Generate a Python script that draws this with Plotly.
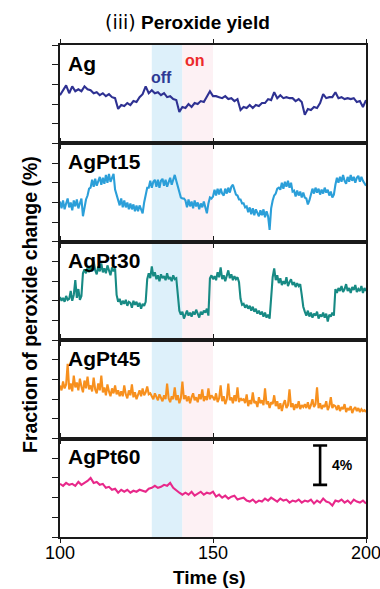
import numpy as np
import plotly.graph_objects as go
from plotly.subplots import make_subplots

# ---- data: fraction of peroxide change (%), each panel offset on its own 0-10 scale ----
panel_names = ["Ag", "AgPt15", "AgPt30", "AgPt45", "AgPt60"]
panel_colors = ["#2e3192", "#2b9fd9", "#178a84", "#f7901e", "#e8288a"]

# Ag, sampled every 1 s from 100 to 200 s
ag = [4.9, 5.4, 5.9, 5.1, 5.8, 5.3, 5.5, 5.3, 5.8, 5.5,
      5.4, 5.1, 5.2, 4.9, 5.1, 4.8, 5.0, 4.7, 4.6, 3.5,
      3.9, 3.8, 4.1, 3.9, 4.3, 4.2, 4.7, 5.0, 5.8, 5.1,
      5.4, 5.1, 5.2, 4.9, 5.1, 4.7, 4.8, 4.5, 4.4, 3.2,
      3.7, 3.6, 4.0, 3.7, 4.1, 4.0, 4.3, 4.2, 4.8, 5.3,
      4.8, 4.8, 4.7, 4.6, 4.8, 4.5, 4.6, 4.3, 4.5, 3.4,
      3.7, 3.6, 3.9, 3.6, 3.9, 3.8, 4.1, 4.1, 4.5, 4.4,
      5.2, 4.6, 4.9, 4.6, 4.7, 4.6, 4.6, 4.3, 4.5, 4.2,
      2.9, 3.5, 3.4, 3.7, 3.6, 4.1, 5.0, 4.6, 4.7, 4.7,
      5.2, 4.6, 4.7, 4.5, 4.6, 4.5, 4.6, 4.2, 4.3, 3.7,
      4.4]

# AgPt15, sampled every 0.5 s
agpt15 = [4.1, 3.4, 4.2, 3.3, 3.9, 4.4, 3.5, 4.0, 3.2, 4.2, 3.6, 4.3, 3.4, 3.9, 4.4, 2.6,
          3.6, 4.3, 4.7, 5.4,
          5.5, 6.3, 5.6, 6.4, 5.7, 6.2, 6.6, 5.8, 6.5, 5.9, 6.8, 6.0, 6.9, 6.1, 6.6, 6.9,
          5.3, 4.8,
          4.3, 3.7, 4.4, 3.5, 4.2, 3.5, 4.0, 3.3, 3.9, 3.3, 3.8, 3.1, 3.7, 3.1, 3.7, 3.3, 2.9, 4.0,
          4.8, 5.5,
          5.5, 6.2, 5.5, 6.1, 6.3, 5.6, 6.3, 5.5, 6.2, 6.4, 5.7, 6.3, 5.6, 6.2, 6.5, 5.8, 6.4, 6.8,
          6.2, 5.6, 5.0, 4.5, 4.4, 4.4,
          4.2, 3.5, 4.3, 3.6, 4.1, 3.4, 4.2, 3.6, 4.0, 3.3, 3.9, 3.5, 4.1, 3.4, 2.9, 3.9,
          4.5, 4.4,
          4.6, 5.3, 4.7, 5.4, 4.8, 5.4, 4.9, 4.7, 5.4, 4.9, 5.5, 5.0, 5.6, 5.8,
          5.2, 4.8, 4.7, 4.3, 4.3, 3.9, 3.9, 3.5,
          3.6, 3.0, 3.5, 2.8, 3.4, 2.7, 3.3, 2.9, 2.6, 3.2, 2.7, 3.3, 2.5, 3.1, 2.6,
          1.2,
          3.4, 4.2, 4.7, 4.9, 5.4, 5.5,
          5.3, 6.0, 5.4, 6.1, 5.6, 6.2, 5.5, 6.0,
          5.1, 5.2, 4.6, 5.2, 4.7, 5.1, 4.5, 5.0, 4.5, 4.4,
          3.8, 4.2,
          4.8, 5.4, 4.9, 5.5, 5.0, 5.4, 4.8, 5.3, 4.9, 5.5, 5.0, 5.3, 4.7, 5.1,
          4.5, 4.8,
          5.8, 6.5, 6.0, 6.6, 6.1, 6.8, 6.2, 5.9, 6.6, 6.1, 6.8, 6.2, 6.6, 6.0, 6.5, 6.7,
          6.1, 6.6, 6.2, 6.0, 5.7]

# AgPt30, sampled every 0.5 s
agpt30 = [4.4, 4.0, 4.3, 3.9, 4.5, 4.1, 4.2, 5.0, 4.0, 4.6, 6.1, 4.3, 5.2, 4.1, 4.5,
          6.8,
          7.2, 6.8, 7.4, 6.9, 7.6, 7.0, 8.0, 7.1, 6.7, 7.5, 7.0, 7.8, 6.9, 7.3, 6.8, 7.6,
          7.1, 6.6, 7.4, 7.0, 7.3,
          4.6,
          3.9, 4.2, 3.6, 4.0, 3.7, 4.1, 3.5, 3.9, 3.8, 3.3, 4.0, 3.6, 3.9, 3.4, 3.8, 3.2,
          3.7, 3.5, 3.9,
          6.2,
          6.8, 6.3, 7.5, 6.5, 6.9, 6.2, 6.6, 6.0, 6.7, 6.3, 6.5, 6.1, 6.8, 6.2, 6.4, 6.0,
          6.6, 6.2, 6.3,
          4.5, 3.0,
          2.6, 2.9, 2.2, 2.7, 3.0, 2.5, 2.8, 2.4, 2.9, 2.6, 3.1, 2.7, 2.3, 2.9, 2.6, 3.0,
          2.8, 3.2, 2.5,
          6.3,
          6.6, 6.2, 6.5, 6.1, 6.9, 6.4, 7.4, 6.2, 6.6, 6.0, 6.5, 7.1, 6.3, 6.7, 6.1, 6.5,
          6.2, 6.4, 5.9,
          4.2, 3.6,
          3.7, 3.3, 3.6, 3.2, 3.5, 3.0, 3.4, 2.9, 3.2, 2.7, 3.0, 2.6, 2.9, 2.4, 2.8, 2.3,
          2.6, 2.2,
          4.5, 6.4,
          7.3, 6.1, 6.6, 5.8, 6.3, 5.6, 6.0, 5.7, 6.4, 5.5, 5.9, 6.2, 5.6, 5.9, 5.4, 5.8,
          5.5, 5.7,
          4.6, 3.4,
          2.9, 2.5, 3.0, 2.4, 2.8, 2.3, 2.7, 2.5, 2.9, 2.2, 2.6, 2.4, 2.8, 2.3, 2.7, 1.9,
          2.6, 2.4, 2.8, 2.5,
          5.2, 4.8, 5.3, 5.0, 5.5, 4.9, 5.2, 5.7, 5.0, 5.3, 4.8, 5.4, 5.1, 5.6, 4.9, 5.2,
          5.0, 5.5, 4.8, 5.3, 5.0]

# AgPt45, sampled every 0.5 s
agpt45 = [5.4, 4.9, 5.8, 5.1, 5.5, 7.6, 5.0, 5.6, 4.8, 6.4, 5.2, 5.7, 4.9, 6.1, 5.3, 4.7, 5.9, 5.1, 6.3, 5.0,
          5.4, 4.8, 6.2, 5.0, 4.6, 5.6, 4.9, 6.4, 4.7, 5.2, 4.4, 5.5, 4.8, 4.3, 5.1, 4.6, 5.4, 4.5, 4.9, 4.3,
          4.8, 4.3, 5.4, 4.5, 4.1, 4.9, 4.4, 5.5, 4.2, 4.7, 4.0, 4.6, 4.9, 4.3, 5.1, 4.4, 4.7, 5.3, 4.5, 4.6,
          4.3, 4.0, 4.6, 4.2, 3.9, 4.5, 4.1, 3.8, 4.4, 4.0, 5.6, 4.1, 3.7, 4.3, 4.0, 5.2, 3.9, 4.4, 3.6, 4.1,
          5.8, 4.0, 4.4, 3.8, 4.3, 3.6, 4.2, 4.6, 3.9, 4.2, 3.7, 4.5, 4.0, 5.0, 3.8, 4.3, 3.9, 5.1, 4.0, 4.4,
          4.2, 3.9, 4.6, 3.7, 4.1, 5.4, 3.8, 4.3, 3.5, 4.0, 5.6, 3.9, 4.2, 3.6, 4.4, 3.8, 5.2, 3.7, 4.1, 3.9,
          4.0, 3.6, 4.5, 3.3, 3.9, 3.5, 4.7, 3.6, 3.8, 3.2, 4.2, 3.6, 3.9, 3.4, 5.1, 3.5, 3.8, 3.1, 3.7, 3.5,
          4.4, 3.3, 3.8, 3.0, 3.6, 2.8, 3.5, 3.9, 3.1, 3.4, 5.0, 3.2, 3.6, 2.9, 3.5, 3.1, 3.8, 3.0, 3.4, 3.2,
          3.5, 3.1, 3.7, 3.0, 3.4, 4.0, 3.2, 3.5, 5.2, 3.1, 3.6, 3.0, 3.4, 3.2, 3.8, 2.9, 3.3, 4.2, 3.1, 3.4,
          3.3, 2.9, 3.4, 2.8, 3.2, 3.0, 3.5, 2.7, 3.1, 2.9, 3.3, 2.6, 3.0, 3.2, 2.8, 3.1, 2.7, 3.0, 2.8, 2.9,
          2.7]

# AgPt60, sampled every 1 s
agpt60 = [5.4, 5.2, 5.5, 5.3, 5.4, 5.2, 5.6, 5.3, 5.5, 5.7, 6.0,
          5.5, 5.6, 5.3, 5.4, 5.0, 5.1, 4.8, 4.9, 4.5, 4.8,
          4.6, 4.8, 4.5, 4.7, 4.6, 4.8, 4.7, 4.6, 4.9, 5.0,
          5.2, 5.0, 5.1, 5.3, 5.2, 5.5, 5.0, 4.7, 4.5, 4.3,
          4.5, 4.3, 4.6, 4.2, 4.4, 4.6, 4.3, 4.5, 4.4, 4.6,
          4.1, 4.3, 4.0, 4.2, 3.9, 4.1, 4.2, 3.8, 3.9, 4.0,
          3.7, 3.6, 3.8, 3.5, 3.7, 3.6, 3.9, 3.7, 4.0, 3.8,
          3.6, 3.9, 3.7, 3.8, 3.5, 3.7, 3.6, 3.8, 3.5, 3.7,
          3.6, 3.8, 3.4, 3.7, 3.5, 3.9, 3.6, 3.5, 3.2, 3.7,
          3.6, 3.8, 3.5, 3.7, 3.4, 3.8, 3.6, 3.5, 3.7, 3.4]

series = [ag, agpt15, agpt30, agpt45, agpt60]

t_start, t_end = 100, 200
off_window = (130, 140)   # light off
on_window = (140, 150)    # light on
x_ticks = [100, 150, 200]
y_ticks = [0, 2, 4, 6, 8, 10]
scale_pct = 4             # scale bar length (%)

FONT = "Liberation Sans, Arial, sans-serif"
AX = "#1a1a1a"

fig = make_subplots(rows=5, cols=1, shared_xaxes=True, vertical_spacing=0)

for i, (name, vals, col) in enumerate(zip(panel_names, series, panel_colors), start=1):
    t = np.linspace(t_start, t_end, len(vals))
    fig.add_trace(go.Scatter(x=t, y=vals, mode="lines", name=name,
                             line=dict(color=col, width=2.1), showlegend=False),
                  row=i, col=1)
    fig.add_annotation(text=f"<b>{name}</b>", x=0.018, xref="paper",
                       y=0.815, yref=f"y{'' if i == 1 else i} domain",
                       xanchor="left", yanchor="middle", showarrow=False,
                       font=dict(family=FONT, size=21, color="#000"))

fig.update_yaxes(range=[0, 10], tickvals=y_ticks, ticks="outside", ticklen=6,
                 tickwidth=1.3, tickcolor=AX, showticklabels=False,
                 showline=True, mirror=True, linecolor=AX, linewidth=1.5,
                 showgrid=False, zeroline=False, automargin=False)
fig.update_xaxes(range=[t_start, t_end], tickvals=x_ticks, ticks="outside", ticklen=4,
                 tickwidth=1.3, tickcolor=AX, showline=True, mirror="ticks",
                 linecolor=AX, linewidth=1.5, showgrid=False, zeroline=False,
                 showticklabels=False, automargin=False)
fig.update_xaxes(showticklabels=True, tickfont=dict(family=FONT, size=18, color="#000"),
                 tickprefix="<b>", ticksuffix="</b>", ticklabeloverflow="allow",
                 ticklabelstandoff=-5, row=5, col=1)

# illumination windows spanning every panel
fig.add_shape(type="rect", xref="x", yref="paper", x0=off_window[0], x1=off_window[1],
              y0=0, y1=1, fillcolor="#ddf0fa", line=dict(width=0), layer="below")
fig.add_shape(type="rect", xref="x", yref="paper", x0=on_window[0], x1=on_window[1],
              y0=0, y1=1, fillcolor="#fdf1f4", line=dict(width=0), layer="below")

fig.add_annotation(text="<b>off</b>", x=133.3, y=6.7, xref="x", yref="y",
                   showarrow=False, font=dict(family=FONT, size=16, color="#2e3a94"))
fig.add_annotation(text="<b>on</b>", x=144.2, y=8.4, xref="x", yref="y",
                   showarrow=False, font=dict(family=FONT, size=16, color="#ec2a2a"))

# 4 % scale bar in the bottom panel
bar_x, bar_y0 = 185, 5.3
bar_y1 = bar_y0 + scale_pct
cap = 2.3
bar_style = dict(color="#000", width=2.6)
fig.add_shape(type="line", xref="x5", yref="y5", x0=bar_x, x1=bar_x, y0=bar_y0, y1=bar_y1, line=bar_style)
fig.add_shape(type="line", xref="x5", yref="y5", x0=bar_x - cap, x1=bar_x + cap, y0=bar_y0, y1=bar_y0, line=bar_style)
fig.add_shape(type="line", xref="x5", yref="y5", x0=bar_x - cap, x1=bar_x + cap, y0=bar_y1, y1=bar_y1, line=bar_style)
fig.add_annotation(text=f"<b>{scale_pct}%</b>", x=bar_x + 3.2, y=(bar_y0 + bar_y1) / 2,
                   xref="x5", yref="y5", xanchor="left", yanchor="middle", showarrow=False,
                   font=dict(family=FONT, size=14, color="#000"))

# titles
fig.add_annotation(text="<span style='font-family:DejaVu Sans'>(iii)</span> <b>Peroxide yield</b>",
                   x=0.418, y=1.047, xref="paper", yref="paper",
                   xanchor="center", yanchor="middle",
                   showarrow=False, font=dict(family=FONT, size=19, color="#000"))
fig.add_annotation(text="<b>Fraction of peroxide change (%)</b>", x=-0.098, y=0.4715,
                   xref="paper", yref="paper", xanchor="center", yanchor="middle",
                   textangle=-90, showarrow=False,
                   font=dict(family=FONT, size=19.5, color="#000"))
fig.add_annotation(text="<b>Time (s)</b>", x=0.49, y=-0.083, xref="paper", yref="paper",
                   xanchor="center", yanchor="middle",
                   showarrow=False, font=dict(family=FONT, size=19, color="#000"))

fig.update_layout(width=380, height=589, margin=dict(l=60, r=14, t=45, b=52),
                  paper_bgcolor="white", plot_bgcolor="white")

fig.write_html("out.html")
